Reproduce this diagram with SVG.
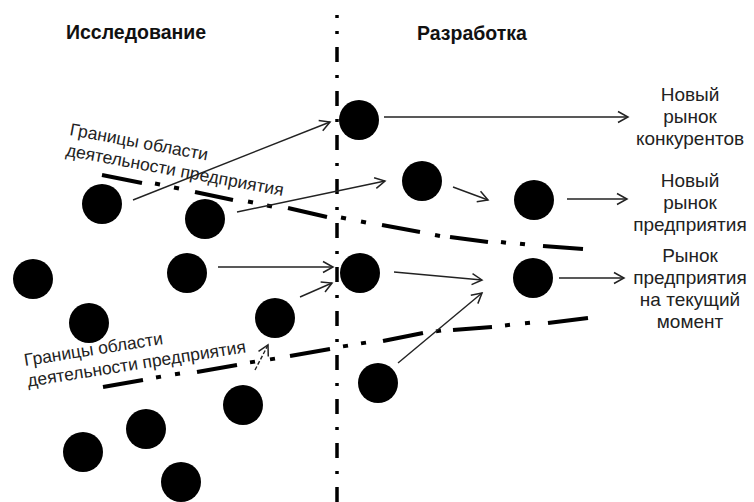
<svg xmlns="http://www.w3.org/2000/svg" width="754" height="502" viewBox="0 0 754 502">
<style>
.node{fill:#000}
.title{font-family:"Liberation Sans",Arial,sans-serif;font-weight:bold;font-size:19.5px;fill:#111}
.lbl{font-family:"Liberation Sans",Arial,sans-serif;font-size:19px;fill:#222;text-anchor:middle}
.bnd{font-family:"Liberation Sans",Arial,sans-serif;font-size:17.5px;fill:#222}
.conn{fill:none;stroke:#222;stroke-width:1.4;marker-end:url(#arr)}
.boundary{fill:none;stroke:#000;stroke-width:4;stroke-linecap:butt}
.divider{fill:none;stroke:#000;stroke-width:3.5}
</style>
<defs>
<marker id="arr" viewBox="-12 -7 14 14" refX="0" refY="0" markerWidth="14" markerHeight="14" markerUnits="userSpaceOnUse" orient="auto">
<path d="M-10,-5.5 L0,0 L-10,5.5" fill="none" stroke="#222" stroke-width="1.5"/>
</marker>
</defs>
<rect width="754" height="502" fill="#fff"/>

<g id="divider">
<path class="divider" d="M337,15 L337,18"/>
<path class="divider" d="M337,31 L337,502" stroke-dasharray="3 13 15 13"/>
</g>

<g id="boundaries">
<path class="boundary" d="M102,175 L142,183 M155,183.5 L160,184.5 M174,187.5 L179,188.5 M195,192 L233,200 M248,201.5 L253,202.5 M267,205.5 L272,206.5 M288,208 L327,217 M341,217.5 L346,218.5 M361,221.5 L366,222.5 M382,225 L420,232 M435,235 L440,236 M450,237 L488,242 M501,242 L506,242.7 M520,243.7 L525,244.3 M543,246 L583,249"/>
<path class="boundary" d="M103,387 L143,380 M156,377.5 L161,376.6 M175,374.3 L180,373.5 M197,372 L237,365 M250,362.4 L255,361.6 M270,359.4 L275,358.6 M290,356 L330,349 M343,346.4 L348,345.6 M361,343.4 L366,342.6 M383,341 L423,333 M436,331.4 L441,330.6 M453,330 L492,327 M505,325.4 L510,324.8 M525,323.3 L530,322.8 M548,323 L588,318"/>
</g>

<g id="title-research"><text class="title" x="66" y="39">Исследование</text></g>
<g id="title-development"><text class="title" x="417" y="40">Разработка</text></g>

<g id="label-boundary-upper"><text class="bnd" transform="translate(69,135) rotate(10.5)"><tspan x="0" y="0">Границы области</tspan><tspan x="0" y="21">деятельности предприятия</tspan></text></g>
<g id="label-boundary-lower"><text class="bnd" transform="translate(25,366) rotate(-9)"><tspan x="0" y="0">Границы области</tspan><tspan x="0" y="21">деятельности предприятия</tspan></text></g>

<g id="n1"><circle class="node" cx="359" cy="120" r="20"/></g>
<g id="n2"><circle class="node" cx="422" cy="181" r="20"/></g>
<g id="n3"><circle class="node" cx="534" cy="200" r="20"/></g>
<g id="n4"><circle class="node" cx="102" cy="204" r="20"/></g>
<g id="n5"><circle class="node" cx="205" cy="219" r="20"/></g>
<g id="n6"><circle class="node" cx="33" cy="279" r="20"/></g>
<g id="n7"><circle class="node" cx="187" cy="273" r="20"/></g>
<g id="n8"><circle class="node" cx="360" cy="273" r="20"/></g>
<g id="n9"><circle class="node" cx="533" cy="278" r="20"/></g>
<g id="n10"><circle class="node" cx="89" cy="323" r="20"/></g>
<g id="n11"><circle class="node" cx="275" cy="318" r="20"/></g>
<g id="n12"><circle class="node" cx="378" cy="383" r="20"/></g>
<g id="n13"><circle class="node" cx="243" cy="405" r="20"/></g>
<g id="n14"><circle class="node" cx="146" cy="429" r="20"/></g>
<g id="n15"><circle class="node" cx="83" cy="452" r="20"/></g>
<g id="n16"><circle class="node" cx="181" cy="482" r="20"/></g>

<g id="market-competitors"><text class="lbl"><tspan x="690" y="101">Новый</tspan><tspan x="690" y="123">рынок</tspan><tspan x="690" y="145">конкурентов</tspan></text></g>
<g id="market-new"><text class="lbl"><tspan x="690" y="187">Новый</tspan><tspan x="690" y="209">рынок</tspan><tspan x="690" y="231">предприятия</tspan></text></g>
<g id="market-current"><text class="lbl"><tspan x="690" y="262">Рынок</tspan><tspan x="690" y="284">предприятия</tspan><tspan x="690" y="306">на текущий</tspan><tspan x="690" y="328">момент</tspan></text></g>

<g id="connectors">
<path class="conn" d="M133,200 L330,122"/>
<path class="conn" d="M237,212 L385,181"/>
<path class="conn" d="M384,117 L628,117"/>
<path class="conn" d="M453,187 L488,200"/>
<path class="conn" d="M567,199 L627,199"/>
<path class="conn" d="M218,267 L333,267"/>
<path class="conn" d="M300,297 L332,283"/>
<path class="conn" d="M255,370 L268,345" stroke-dasharray="4 2"/>
<path class="conn" d="M394,272 L482,280"/>
<path class="conn" d="M398,363 L482,293"/>
<path class="conn" d="M559,278 L624,278"/>
</g>
</svg>
